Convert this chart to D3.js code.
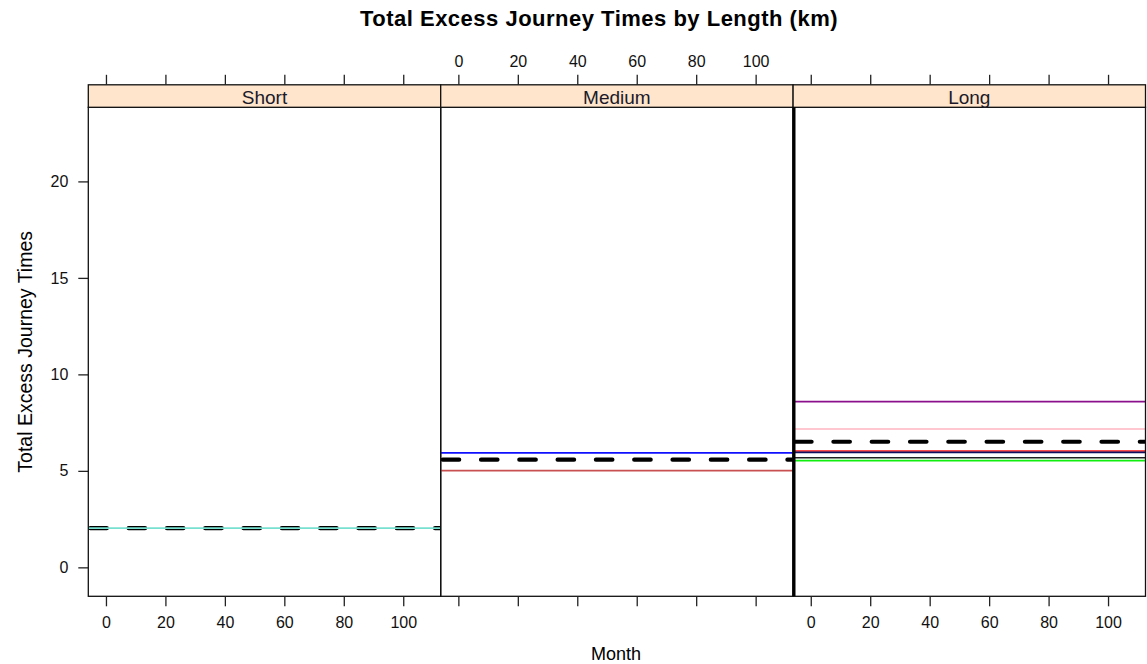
<!DOCTYPE html>
<html>
<head>
<meta charset="utf-8">
<script src="https://cdn.jsdelivr.net/npm/d3@7"></script>
<style>
  html, body { margin: 0; padding: 0; background: #fff; }
  svg { display: block; font-family: "Liberation Sans", Arial, sans-serif; }
</style>
</head>
<body>
<svg id="chart" width="1147" height="664"></svg>
<script>
// Panels (journey length) and axis ticks
const panels = ["Short", "Medium", "Long"];
const xTicks = [0, 20, 40, 60, 80, 100];
const yTicks = [0, 5, 10, 15, 20];

// Per-route totals of excess journey time within each length group
const shortValues = [2.03];
const shortColors = ["#78e0d0"];
const mediumValues = [5.93, 5.01];
const mediumColors = ["#1010ff", "#c85050"];
const longValues = [8.59, 7.17, 6.03, 5.96, 5.68, 5.53];
const longColors = ["#8b108b", "#ffb6c1", "#ff1010", "#101060", "#202020", "#10ee10"];

// Group averages (dashed)
const meanValues = [2.03, 5.58, 6.51];

const seriesValues = [shortValues, mediumValues, longValues];
const seriesColors = [shortColors, mediumColors, longColors];

const svg = d3.select("#chart");

const plotL = 88.3, plotR = 1145.5, plotT = 107.3, plotB = 596.3, stripH = 22.5;
const pw = (plotR - plotL) / panels.length;
const tickFont = 16;

const y = d3.scaleLinear().domain([-1.5, 23.84]).range([plotB, plotT]);

// Title
svg.append("text")
  .attr("x", 599).attr("y", 25.5)
  .attr("text-anchor", "middle")
  .attr("font-size", 22).attr("font-weight", "bold")
  .attr("letter-spacing", 0.5)
  .text("Total Excess Journey Times by Length (km)");

// Axis titles
svg.append("text")
  .attr("x", 616).attr("y", 659.5)
  .attr("text-anchor", "middle")
  .attr("font-size", 18)
  .text("Month");

svg.append("text")
  .attr("transform", `translate(31.5,${(plotT + plotB) / 2}) rotate(-90)`)
  .attr("text-anchor", "middle")
  .attr("font-size", 19.5)
  .text("Total Excess Journey Times");

// Left y axis
const yAxis = d3.axisLeft(y).tickValues(yTicks).tickSize(10).tickPadding(10);
const gy = svg.append("g").attr("transform", `translate(${plotL},0)`).call(yAxis);
gy.select(".domain").remove();
gy.selectAll("line").attr("stroke", "#222").attr("stroke-width", 1.3);
gy.selectAll("text").attr("font-size", tickFont).attr("font-family", "Liberation Sans, Arial, sans-serif").attr("fill", "#111");

panels.forEach((name, i) => {
  const x0 = plotL + i * pw, x1 = x0 + pw;
  const x = d3.scaleLinear().domain([-5.94, 112.6]).range([x0, x1]);
  const g = svg.append("g");

  const clipId = "clip" + i;
  svg.append("clipPath").attr("id", clipId)
    .append("rect").attr("x", x0).attr("y", plotT).attr("width", pw).attr("height", plotB - plotT);

  const lines = g.append("g").attr("clip-path", `url(#${clipId})`);
  const [d0, d1] = x.domain();

  // group mean, dashed
  lines.append("line")
    .attr("x1", x(d0)).attr("x2", x(d1))
    .attr("y1", y(meanValues[i])).attr("y2", y(meanValues[i]))
    .attr("stroke", "#000").attr("stroke-width", 4.2)
    .attr("stroke-linecap", "round")
    .attr("stroke-dasharray", "16.5,21.8")
    .attr("stroke-dashoffset", -2);

  // individual route series
  lines.selectAll("line.s")
    .data(seriesValues[i].map((v, k) => ({ v, c: seriesColors[i][k] })))
    .join("line").attr("class", "s")
    .attr("x1", x(d0)).attr("x2", x(d1))
    .attr("y1", d => y(d.v)).attr("y2", d => y(d.v))
    .attr("stroke", d => d.c).attr("stroke-width", 1.7);

  // panel frame
  g.append("rect")
    .attr("x", x0).attr("y", plotT).attr("width", pw).attr("height", plotB - plotT)
    .attr("fill", "none").attr("stroke", "#111").attr("stroke-width", 1.3);

  // strip
  g.append("rect")
    .attr("x", x0).attr("y", plotT - stripH).attr("width", pw).attr("height", stripH)
    .attr("fill", "#ffe5cc").attr("stroke", "#111").attr("stroke-width", 1.3);
  g.append("text")
    .attr("x", (x0 + x1) / 2).attr("y", plotT - 3.5)
    .attr("text-anchor", "middle").attr("font-size", 19).attr("fill", "#1a1a2a")
    .text(name);

  // top axis (labels only on the middle panel)
  const topAxis = d3.axisTop(x).tickValues(xTicks).tickSize(10).tickPadding(8)
    .tickFormat(i === 1 ? d3.format("d") : () => "");
  const gt = svg.append("g").attr("transform", `translate(0,${plotT - stripH})`).call(topAxis);
  gt.select(".domain").remove();
  gt.selectAll("line").attr("stroke", "#222").attr("stroke-width", 1.3);
  gt.selectAll("text").attr("font-size", tickFont).attr("font-family", "Liberation Sans, Arial, sans-serif").attr("fill", "#111");

  // bottom axis (labels on outer panels)
  const botAxis = d3.axisBottom(x).tickValues(xTicks).tickSize(10).tickPadding(10)
    .tickFormat(i !== 1 ? d3.format("d") : () => "");
  const gb = svg.append("g").attr("transform", `translate(0,${plotB})`).call(botAxis);
  gb.select(".domain").remove();
  gb.selectAll("line").attr("stroke", "#222").attr("stroke-width", 1.3);
  gb.selectAll("text").attr("font-size", tickFont).attr("font-family", "Liberation Sans, Arial, sans-serif").attr("fill", "#111");
});

// heavy left edge of the Long panel
svg.append("line")
  .attr("x1", plotL + 2 * pw + 0.8).attr("x2", plotL + 2 * pw + 0.8)
  .attr("y1", plotT).attr("y2", plotB)
  .attr("stroke", "#000").attr("stroke-width", 3.2);
</script>
</body>
</html>
